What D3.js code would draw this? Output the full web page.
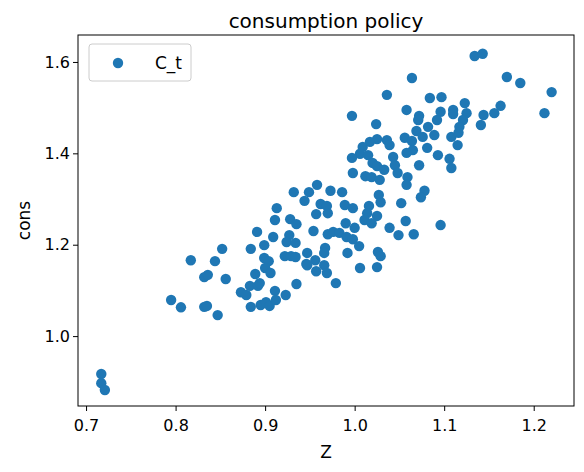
<!DOCTYPE html>
<html><head><meta charset="utf-8">
<script src="https://cdn.jsdelivr.net/npm/d3@7"></script>
<style>body{margin:0;background:#fff}text{font-family:"DejaVu Sans",sans-serif}</style>
</head><body><svg id="chart" width="584" height="472"></svg>
<script>
// Z values and consumption values
let zVals = [0.717,0.717,0.721,0.795,0.806,0.817,0.832,0.836,0.844,0.852,0.856,0.832,0.835,0.847,0.873,0.879,0.883,0.884,0.889,0.892,0.894,0.895,0.901,0.905,0.911,0.912,0.923,0.935,0.884,0.891,0.899,0.899,0.904,0.900,0.906,0.909,0.911,0.913,0.928,0.935,0.927,0.924,0.934,0.922,0.929,0.934,0.947,0.946,0.956,0.957,0.966,0.954,0.957,0.962,0.944,0.932,0.949,0.958,
  1.134,1.143,1.064,1.170,1.185,1.220,1.036,1.084,1.097,1.123,1.163,1.156,1.144,1.141,1.212,0.997,1.058,1.024,1.072,1.071,1.096,1.110,1.110,1.125,1.092,1.121,1.082,1.069,1.117,1.076,1.089,1.108,1.116,1.025,1.036,1.039,1.056,1.064,1.017,1.009,1.081,1.115,1.065,1.006,0.997,1.015,1.043,1.058,1.093,1.106,1.020,1.025,1.045,1.072,1.108,1.033,0.998,1.012,1.019,1.028,1.048,1.059,1.058,
  0.973,0.986,1.027,1.078,1.074,0.969,0.989,0.998,1.029,1.052,1.016,0.970,1.014,1.025,1.011,1.019,1.057,1.096,0.990,1.000,0.970,0.976,0.983,0.991,0.998,1.039,1.049,1.066,1.005,0.967,0.966,0.992,1.026,1.029,0.947,0.969,1.006,1.025,0.979];
let consVals = [0.917,0.897,0.882,1.079,1.063,1.166,1.129,1.134,1.164,1.191,1.125,1.064,1.066,1.046,1.096,1.090,1.110,1.064,1.136,1.110,1.116,1.068,1.074,1.066,1.099,1.079,1.090,1.114,1.191,1.228,1.199,1.171,1.164,1.149,1.138,1.217,1.254,1.280,1.256,1.245,1.221,1.206,1.204,1.175,1.175,1.173,1.182,1.158,1.166,1.142,1.155,1.230,1.267,1.289,1.296,1.315,1.315,1.331,
  1.613,1.618,1.565,1.567,1.554,1.534,1.528,1.521,1.523,1.510,1.504,1.488,1.484,1.462,1.488,1.482,1.495,1.464,1.482,1.473,1.491,1.495,1.486,1.488,1.473,1.473,1.458,1.449,1.458,1.436,1.440,1.436,1.445,1.431,1.429,1.418,1.434,1.427,1.425,1.414,1.412,1.418,1.407,1.399,1.390,1.396,1.392,1.401,1.396,1.388,1.379,1.372,1.374,1.374,1.368,1.364,1.357,1.350,1.348,1.342,1.357,1.348,1.331,
  1.318,1.315,1.309,1.318,1.304,1.285,1.287,1.280,1.293,1.291,1.285,1.269,1.269,1.263,1.254,1.247,1.252,1.243,1.247,1.237,1.223,1.228,1.226,1.217,1.212,1.237,1.221,1.223,1.197,1.193,1.182,1.182,1.184,1.175,1.155,1.138,1.149,1.151,1.116];
let xTicks = [0.7,0.8,0.9,1.0,1.1,1.2];
let yTicks = [1.0,1.2,1.4,1.6];

let svg = d3.select("#chart");
let pLeft = 78, pRight = 574, pTop = 35, pBottom = 406;
let x = d3.scaleLinear().domain([0.691,1.245]).range([pLeft,pRight]);
let y = d3.scaleLinear().domain([0.847,1.659]).range([pBottom,pTop]);

svg.append("g").selectAll("circle").data(zVals).enter().append("circle")
    .attr("cx", d => x(d))
    .attr("cy", (d,i) => y(consVals[i]))
    .attr("r", 5.2)
    .attr("fill", "#1f77b4");

svg.append("rect").attr("x",pLeft).attr("y",pTop).attr("width",pRight-pLeft).attr("height",pBottom-pTop)
    .attr("fill","none").attr("stroke","#000").attr("stroke-width",1);

let xa = svg.append("g").attr("transform","translate(0,"+pBottom+")")
    .call(d3.axisBottom(x).tickValues(xTicks).tickFormat(d3.format(".1f")).tickSizeOuter(0).tickSize(5));
let ya = svg.append("g").attr("transform","translate("+pLeft+",0)")
    .call(d3.axisLeft(y).tickValues(yTicks).tickFormat(d3.format(".1f")).tickSizeOuter(0).tickSize(5));
[xa,ya].forEach(a => {
    a.select(".domain").remove();
    a.selectAll("text").attr("font-size",16).attr("font-family","DejaVu Sans").attr("fill","#000");
    a.selectAll("line").attr("stroke","#000");
});
xa.selectAll("text").attr("dy","1.05em");

svg.append("text").attr("x",(pLeft+pRight)/2).attr("y",28).attr("text-anchor","middle")
    .attr("font-size",20).text("consumption policy");
svg.append("text").attr("x",(pLeft+pRight)/2).attr("y",458).attr("text-anchor","middle")
    .attr("font-size",17).text("Z");
svg.append("text").attr("transform","translate(30,"+(pTop+pBottom)/2+") rotate(-90)").attr("text-anchor","middle")
    .attr("font-size",17).text("cons");

// legend
let lg = svg.append("g");
lg.append("rect").attr("x",89).attr("y",44).attr("width",102).attr("height",37).attr("rx",3)
    .attr("fill","#fff").attr("fill-opacity",0.8).attr("stroke","#ccc");
lg.append("circle").attr("cx",118).attr("cy",63).attr("r",5.2).attr("fill","#1f77b4");
lg.append("text").attr("x",155).attr("y",69).attr("font-size",17).text("C_t");
</script></body></html>
